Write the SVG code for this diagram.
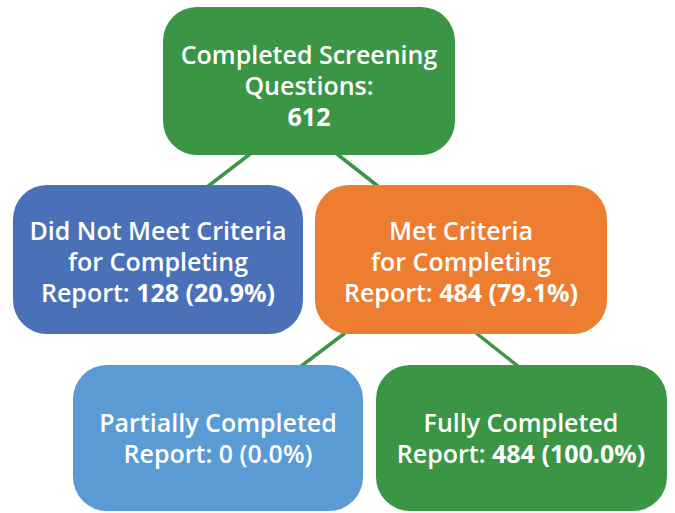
<svg xmlns="http://www.w3.org/2000/svg" width="675" height="513" viewBox="0 0 675 513">
<style>
.t{font-family:"Open Sans","Noto Sans","Liberation Sans",sans-serif;font-size:25px;font-weight:600;fill:#fff;text-anchor:middle;font-variant-ligatures:none}
.b{font-weight:bold}
.c{stroke:#3A9645;stroke-width:3.5;fill:none}
</style>
<rect width="675" height="513" fill="#fff"/>
<g id="connectors">
<line class="c" x1="250" y1="154" x2="207" y2="187"/>
<line class="c" x1="337" y1="154" x2="379" y2="187"/>
<line class="c" x1="345" y1="333" x2="300" y2="367"/>
<line class="c" x1="476" y1="333" x2="519" y2="367"/>
</g>
<g id="root">
<rect x="163" y="7" width="292" height="148" rx="34" fill="#3A9645"/>
<text class="t" x="309" y="64">Completed Screening</text>
<text class="t" x="309" y="95">Questions:</text>
<text class="t b" x="309" y="126">612</text>
</g>
<g id="notmet">
<rect x="13" y="185" width="290" height="149" rx="34" fill="#4A71B8"/>
<text class="t" x="158" y="240">Did Not Meet Criteria</text>
<text class="t" x="158" y="271">for Completing</text>
<text class="t" x="158" y="302">Report: <tspan class="b">128 (20.9%)</tspan></text>
</g>
<g id="met">
<rect x="315" y="185" width="292" height="149" rx="34" fill="#EC7D31"/>
<text class="t" x="461" y="240">Met Criteria</text>
<text class="t" x="461" y="271">for Completing</text>
<text class="t" x="461" y="302">Report: <tspan class="b">484 (79.1%)</tspan></text>
</g>
<g id="partial">
<rect x="73" y="365" width="290" height="146" rx="34" fill="#5B9BD5"/>
<text class="t" x="218" y="432">Partially Completed</text>
<text class="t" x="218" y="463">Report: 0 (0.0%)</text>
</g>
<g id="full">
<rect x="376" y="365" width="291" height="146" rx="34" fill="#3A9645"/>
<text class="t" x="521" y="432">Fully Completed</text>
<text class="t" x="521" y="463">Report: <tspan class="b">484 (100.0%)</tspan></text>
</g>
</svg>
